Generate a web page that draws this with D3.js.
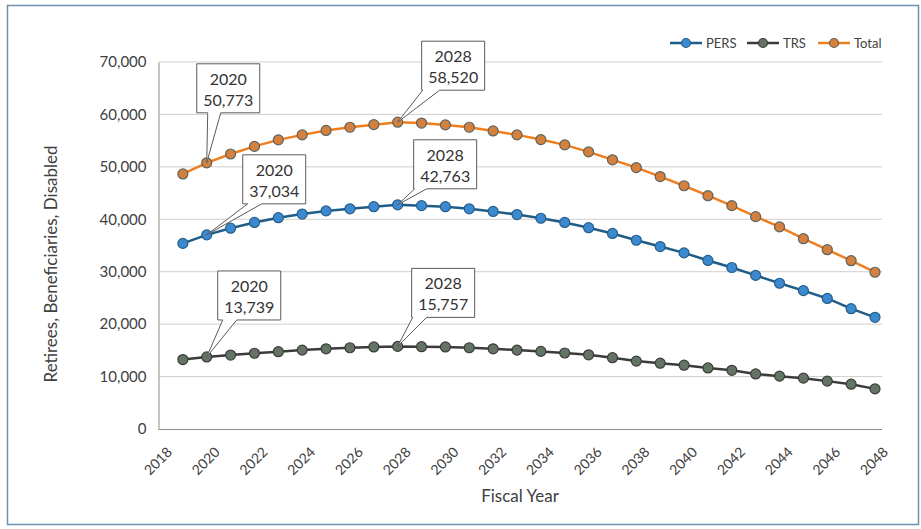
<!DOCTYPE html>
<html>
<head>
<meta charset="utf-8">
<script src="https://cdn.jsdelivr.net/npm/d3@7"></script>
<style>
  html, body { margin: 0; padding: 0; background: #fff; }
  svg { display: block; font-family: Lato, "Open Sans", sans-serif; }
</style>
</head>
<body>
<svg id="chart" width="921" height="529"></svg>
<script>
// ---------------- DATA ----------------
const years = d3.range(2019, 2049);
const persValues = [35400, 37034, 38300, 39400, 40300, 41000, 41600, 42000, 42400, 42763,
                    42600, 42400, 42000, 41500, 40900, 40200, 39400, 38400, 37300, 36000,
                    34800, 33600, 32150, 30800, 29300, 27800, 26400, 24900, 22950, 21300];
const trsValues  = [13250, 13739, 14100, 14450, 14750, 15050, 15300, 15500, 15650, 15757,
                    15700, 15650, 15500, 15300, 15050, 14800, 14500, 14150, 13600, 12950,
                    12550, 12170, 11650, 11200, 10500, 10080, 9700, 9130, 8550, 7650];
const totalValues = [48650, 50773, 52450, 53900, 55150, 56100, 56950, 57550, 58050, 58520,
                     58350, 58000, 57550, 56850, 56100, 55200, 54200, 52850, 51350, 49850,
                     48150, 46400, 44500, 42600, 40500, 38550, 36300, 34200, 32100, 29900];
const seriesNames = ["PERS", "TRS", "Total"];
const yTicks = [0, 10000, 20000, 30000, 40000, 50000, 60000, 70000];
const xTicks = d3.range(2018, 2049, 2);
const callouts = [
  { series: "Total", year: 2020 }, { series: "Total", year: 2028 },
  { series: "PERS",  year: 2020 }, { series: "PERS",  year: 2028 },
  { series: "TRS",   year: 2020 }, { series: "TRS",   year: 2028 }
];

// ---------------- LAYOUT / STYLE ----------------
const styles = {
  PERS:  { line: "#1f5c86", fill: "#3c89cf", stroke: "#245f8c" },
  TRS:   { line: "#3b3b3b", fill: "#647464", stroke: "#3b3b3b" },
  Total: { line: "#f07d1e", fill: "#d6803e", stroke: "#5b6460" }
};
// callout box offsets relative to the data point (px); w0/w1 = pointer base, relative to point x
const calloutLayout = {
  "Total-2020": { bx: -10, by: -99, w0: 1,  w1: 14 },
  "Total-2028": { bx: 24,  by: -81, w0: 25, w1: 42 },
  "PERS-2020":  { bx: 36,  by: -80, w0: 41, w1: 55 },
  "PERS-2028":  { bx: 16,  by: -65, w0: 17, w1: 29 },
  "TRS-2020":   { bx: 11,  by: -86, w0: 16, w1: 30 },
  "TRS-2028":   { bx: 14,  by: -78, w0: 15, w1: 29 }
};
const boxW = 63, boxH = 49;

const svg = d3.select("#chart");
const valuesBy = { PERS: persValues, TRS: trsValues, Total: totalValues };

// outer frame
svg.append("rect").attr("x", 7.5).attr("y", 5.5).attr("width", 911).attr("height", 519)
  .attr("fill", "#fff").attr("stroke", "#6f8fb0").attr("stroke-width", 1.5);

const x = d3.scaleLinear().domain([2018, 2048]).range([159, 875]);
const y = d3.scaleLinear().domain([0, 70000]).range([429, 62]);

// gridlines
svg.append("g").selectAll("line").data(yTicks.filter(d => d > 0)).join("line")
  .attr("x1", 159).attr("x2", 882)
  .attr("y1", d => y(d)).attr("y2", d => y(d))
  .attr("stroke", "#cfcfcf").attr("stroke-width", 1);

// y axis
const yAxis = d3.axisLeft(y).tickValues(yTicks).tickFormat(d3.format(",")).tickSize(0).tickPadding(12);
const gy = svg.append("g").attr("transform", "translate(158.5,0)").call(yAxis);
gy.select(".domain").attr("stroke", "#8a8a8a");
gy.selectAll("text").attr("font-size", 15).attr("fill", "#404040").attr("font-family", "Lato, sans-serif");

// x axis
const xAxis = d3.axisBottom(x).tickValues(xTicks).tickFormat(d3.format("d")).tickSize(0);
const gx = svg.append("g").attr("transform", "translate(0,429.5)").call(xAxis);
gx.select(".domain").attr("stroke", "#8a8a8a").attr("d", "M158.5,0H882");
gx.selectAll("text")
  .attr("font-size", 14).attr("fill", "#404040").attr("font-family", "Lato, sans-serif")
  .attr("text-anchor", "end")
  .attr("dy", "0.35em")
  .attr("transform", "translate(8,18) rotate(-45)");

// axis titles
svg.append("text").attr("x", 520).attr("y", 502).attr("text-anchor", "middle")
  .attr("font-size", 17).attr("fill", "#404040").text("Fiscal Year");
svg.append("text").attr("transform", "translate(57,264) rotate(-90)").attr("text-anchor", "middle")
  .attr("font-size", 17).attr("fill", "#404040").text("Retirees, Beneficiaries, Disabled");

// lines & markers
const line = d3.line().x((d, i) => x(years[i])).y(d => y(d));
seriesNames.forEach(name => {
  const st = styles[name];
  const g = svg.append("g");
  g.append("path").datum(valuesBy[name]).attr("d", line)
    .attr("fill", "none").attr("stroke", st.line).attr("stroke-width", 2.5);
  g.selectAll("circle").data(valuesBy[name]).join("circle")
    .attr("cx", (d, i) => x(years[i])).attr("cy", d => y(d)).attr("r", 5)
    .attr("fill", st.fill).attr("stroke", st.stroke).attr("stroke-width", 1.2);
});

// callouts
callouts.forEach(c => {
  const idx = years.indexOf(c.year);
  const v = valuesBy[c.series][idx];
  const px = x(c.year), py = y(v);
  const L = calloutLayout[c.series + "-" + c.year];
  const bx = px + L.bx, by = py + L.by;
  const bb = by + boxH;
  const path = `M${bx},${by}H${bx + boxW}V${bb}H${px + L.w1}L${px},${py}L${px + L.w0},${bb}H${bx}Z`;
  svg.append("path").attr("d", path).attr("fill", "#fff").attr("stroke", "#5a5a5a").attr("stroke-width", 1);
  const t = svg.append("text").attr("text-anchor", "middle").attr("font-size", 16).attr("fill", "#333");
  t.append("tspan").attr("x", bx + boxW / 2).attr("y", by + 21).text(String(c.year));
  t.append("tspan").attr("x", bx + boxW / 2).attr("y", by + 42).text(d3.format(",")(v));
});

// legend
const legendItems = [
  { name: "PERS", lx: 670, tx: 706 },
  { name: "TRS", lx: 747, tx: 783 },
  { name: "Total", lx: 818, tx: 854 }
];
const lg = svg.append("g");
legendItems.forEach(it => {
  const st = styles[it.name];
  lg.append("line").attr("x1", it.lx).attr("x2", it.lx + 32).attr("y1", 43).attr("y2", 43)
    .attr("stroke", st.line).attr("stroke-width", 2.5);
  lg.append("circle").attr("cx", it.lx + 16).attr("cy", 43).attr("r", 4.5)
    .attr("fill", st.fill).attr("stroke", st.stroke).attr("stroke-width", 1.2);
  lg.append("text").attr("x", it.tx).attr("y", 47.5).attr("font-size", 13).attr("fill", "#404040").text(it.name);
});
</script>
</body>
</html>
